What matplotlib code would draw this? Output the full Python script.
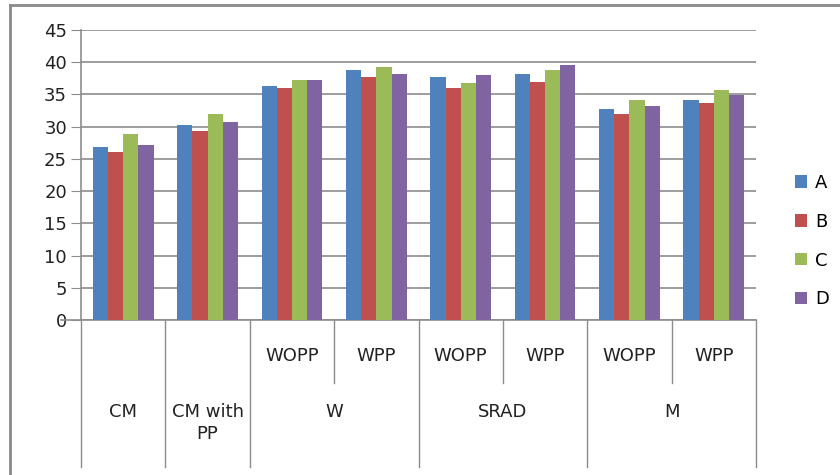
import matplotlib.pyplot as plt
import numpy as np

sub_labels = ['', '', 'WOPP', 'WPP', 'WOPP', 'WPP', 'WOPP', 'WPP']
group_labels = ['CM', 'CM with\nPP', 'W', 'SRAD', 'M']
group_spans = [(0, 0), (1, 1), (2, 3), (4, 5), (6, 7)]
series_names = ['A', 'B', 'C', 'D']

A = [26.8, 30.2, 36.3, 38.8, 37.7, 38.2, 32.7, 34.1]
B = [26.0, 29.4, 36.0, 37.7, 36.0, 36.9, 31.9, 33.6]
C = [28.9, 31.9, 37.3, 39.3, 36.7, 38.8, 34.1, 35.7]
D = [27.1, 30.7, 37.2, 38.2, 38.0, 39.6, 33.2, 34.9]

colors = ['#4F81BD', '#C0504D', '#9BBB59', '#8064A2']
grid_col = '#8c8c8c'
font = 'DejaVu Sans'
fs = 13

fig = plt.figure(figsize=(8.4, 4.75), dpi=100)
ax = fig.add_axes([81 / 840, 155 / 475, 675 / 840, 290 / 475])

x = np.arange(len(sub_labels))
w = 0.18
for i, (vals, name) in enumerate(zip([A, B, C, D], series_names)):
    ax.bar(x + (i - 1.5) * w, vals, w, color=colors[i], label=name,
           zorder=3, edgecolor='none')

ax.set_xlim(-0.5, 7.5)
ax.set_ylim(0, 45)
ax.set_yticks(range(0, 46, 5))
ax.yaxis.grid(True, color=grid_col, lw=1.2, zorder=0)
ax.set_xticks([])
ax.tick_params(axis='y', length=7, color=grid_col, labelsize=fs, pad=3)
for lab in ax.get_yticklabels():
    lab.set_color('#222222')
for s in ['top', 'right']:
    ax.spines[s].set_visible(False)
ax.spines['left'].set_color(grid_col)
ax.spines['bottom'].set_color(grid_col)
ax.spines['left'].set_linewidth(1.2)
ax.spines['bottom'].set_linewidth(1.2)
ax.plot([-0.03, 0], [0, 0], transform=ax.transAxes, color=grid_col,
        lw=1.2, clip_on=False)

# category table below the axis
tr = ax.get_xaxis_transform()
long_bottom = (320 - 467) / 290
short_bottom = (320 - 383) / 290
for xb in [-0.5, 0.5, 1.5, 3.5, 5.5, 7.5]:
    ax.plot([xb, xb], [0, long_bottom], transform=tr, color=grid_col,
            lw=1.0, clip_on=False)
for xb in [2.5, 4.5, 6.5]:
    ax.plot([xb, xb], [0, short_bottom], transform=tr, color=grid_col,
            lw=1.0, clip_on=False)

for xi, lab in zip(x, sub_labels):
    if lab:
        ax.text(xi, (320 - 356) / 290, lab, transform=tr, ha='center',
                va='center', fontsize=fs, color='#222222', family=font)
for (a, b), lab in zip(group_spans, group_labels):
    ax.text((a + b) / 2, (320 - 403) / 290, lab, transform=tr, ha='center',
            va='top', fontsize=fs, color='#222222', family=font,
            linespacing=1.3)

leg = ax.legend(loc='center left', bbox_to_anchor=(1.033, 0.272), frameon=False,
                fontsize=fs, handlelength=0.68, handleheight=0.68,
                handletextpad=0.45, labelspacing=1.15, borderpad=0.4)

# outer chart border (top and left visible)
fig.add_artist(plt.Line2D([10 / 840, 1], [1 - 5 / 475, 1 - 5 / 475],
                          transform=fig.transFigure, color='#8a8a8a', lw=2))
fig.add_artist(plt.Line2D([10 / 840, 10 / 840], [0, 1 - 5 / 475],
                          transform=fig.transFigure, color='#8a8a8a', lw=2))

fig.savefig('out.png', dpi=100)
